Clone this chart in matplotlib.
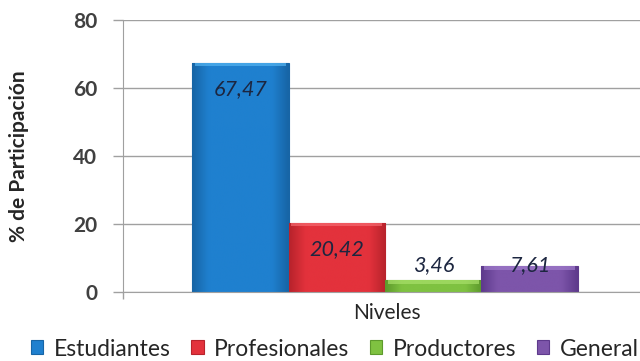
import numpy as np
import matplotlib
matplotlib.use("Agg")
import matplotlib.pyplot as plt
from matplotlib.patches import Rectangle
from matplotlib.colors import LinearSegmentedColormap

plt.rcParams['font.family'] = ['Lato', 'DejaVu Sans']

categories = ["Estudiantes", "Profesionales", "Productores", "General"]
values = [67.47, 20.42, 3.46, 7.61]
labels = ["67,47", "20,42", "3,46", "7,61"]
colors = ["#1f80cf", "#e3323c", "#7fc241", "#7d55aa"]
dark = ["#1765a6", "#b8232c", "#5d9a2c", "#5e3a8c"]
light = ["#55b4f0", "#f56a70", "#a8e06a", "#a07ccc"]
yticks = [0, 20, 40, 60, 80]

fig = plt.figure(figsize=(6.4, 3.61), dpi=100)
ax = fig.add_axes([123 / 640, 1 - 292 / 361, 524 / 640, 272 / 361])

width = 0.184
pos = (np.arange(len(values)) - 1.5) * width
bars = ax.bar(pos, values, width=width, color=colors, edgecolor=dark,
              linewidth=0.8, zorder=3)

# bevel-like shading inside each bar
for b, c, d, l in zip(bars, colors, dark, light):
    x0, y0 = b.get_x(), b.get_y()
    w, h = b.get_width(), b.get_height()
    cmap = LinearSegmentedColormap.from_list("g", [d, c, c, c, c, c, d])
    grad = np.tile(np.linspace(0, 1, 64), (2, 1))
    im = ax.imshow(grad, cmap=cmap, aspect="auto", extent=[x0, x0 + w, y0, y0 + h],
                   zorder=3.1, interpolation="bicubic")
    im.set_clip_path(b)
    top = min(1.0, h * 0.4)
    ax.add_patch(Rectangle((x0 + w * 0.03, y0 + h - top), w * 0.94, top,
                           color=l, alpha=0.7, zorder=3.2, lw=0))

for x, v, t in zip(pos, values, labels):
    ax.text(x, max(v - 7.8, 7.9), t, ha="center", va="center", fontsize=15.5,
            style="italic", color="#1c2640", zorder=5)

ax.set_xlim(-0.5, 0.5)
ax.set_ylim(0, 80)
ax.set_yticks(yticks)
ax.set_yticklabels([str(t) for t in yticks], fontsize=15, fontweight="bold",
                   color="#404040")
ax.set_xticks([-0.5])
ax.set_xticklabels([""])
ax.tick_params(axis="y", direction="out", length=7.5, width=1, color="#a0a0a0", pad=11)
ax.tick_params(axis="x", direction="out", length=5, width=1, color="#a0a0a0")
ax.grid(axis="y", color="#a0a0a0", linewidth=1, zorder=0)
for s in ["top", "right"]:
    ax.spines[s].set_visible(False)
for s in ["left", "bottom"]:
    ax.spines[s].set_color("#a0a0a0")
    ax.spines[s].set_zorder(4)

ax.set_ylabel("% de Participación", fontsize=15, fontweight="bold",
              color="#262626")
ax.yaxis.set_label_coords(-0.18, 0.5)
fig.text(387 / 640, 1 - 313 / 361, "Niveles", ha="center", va="center",
         fontsize=15, color="#262626")

handles = [Rectangle((0, 0), 1, 1, facecolor=c, edgecolor=d, lw=0.8)
           for c, d in zip(colors, dark)]
fig.legend(handles, categories, loc="center", bbox_to_anchor=(0.523, 1 - 349 / 361),
           ncol=4, frameon=False, fontsize=16.5, handlelength=0.55, handleheight=0.55,
           handletextpad=0.45, columnspacing=0.9, labelcolor="#262626",
           borderpad=0.1)

fig.savefig("out.png", dpi=100)
